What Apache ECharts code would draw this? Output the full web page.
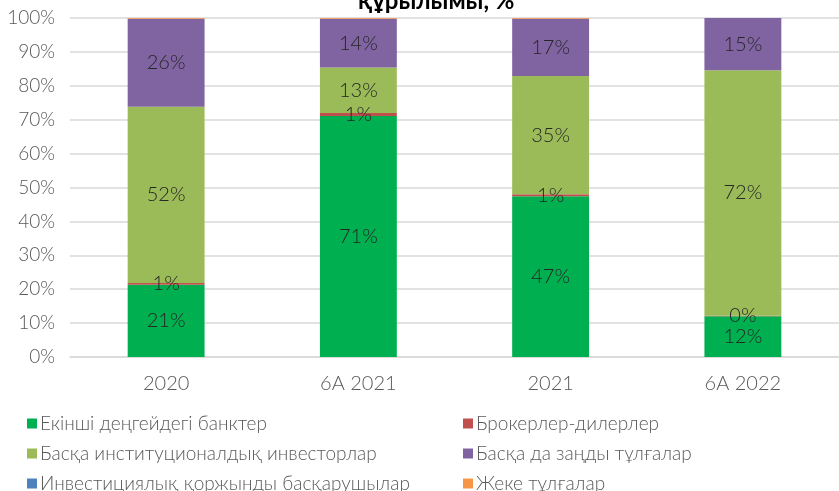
<!DOCTYPE html>
<html>
<head>
<meta charset="utf-8">
<script src="https://cdn.jsdelivr.net/npm/echarts@6/dist/echarts.min.js"></script>
<style>
  html, body { margin: 0; padding: 0; background: #fff; }
  #chart { width: 839px; height: 491px; }
</style>
</head>
<body>
<div id="chart"></div>
<script>
const categories = ["2020", "6А 2021", "2021", "6А 2022"];

// shares, % of total
const banks = [21.3, 71.1, 47.4, 12.0];
const brokers = [0.5, 0.9, 0.6, 0.2];
const otherInstitutional = [52.0, 13.4, 34.9, 72.4];
const otherLegal = [26.0, 14.4, 16.9, 15.4];
const fundManagers = [0, 0, 0, 0];
const individuals = [0.2, 0.2, 0.2, 0];

const yTicks = { min: 0, max: 100, interval: 10 };

const seriesDefs = [
  { name: "Екінші деңгейдегі банктер", data: banks, color: "#00B050", label: true },
  { name: "Брокерлер-дилерлер", data: brokers, color: "#C0504D", label: true },
  { name: "Басқа институционалдық инвесторлар", data: otherInstitutional, color: "#9BBB59", label: true },
  { name: "Басқа да заңды тұлғалар", data: otherLegal, color: "#8064A2", label: true },
  { name: "Инвестициялық қоржынды басқарушылар", data: fundManagers, color: "#4F81BD", label: false },
  { name: "Жеке тұлғалар", data: individuals, color: "#F79646", label: false }
];

const chart = echarts.init(document.getElementById("chart"));

// two legend columns, three rows, one legend per item
const legendCols = [22, 458];
const legendRows = [409, 439, 469];
const legends = seriesDefs.map((s, i) => ({
  data: [s.name],
  left: legendCols[i % 2],
  top: legendRows[Math.floor(i / 2)],
  itemWidth: 10,
  itemHeight: 10,
  itemGap: 4,
  icon: "rect",
  textStyle: { color: "#595959", fontSize: 19, fontFamily: "Lato", fontWeight: 300, padding: [0, 0, 0, -2] }
}));

chart.setOption({
  backgroundColor: "#fff",
  animation: false,
  title: {
    text: "құрылымы, %",
    left: 353,
    top: -16,
    textStyle: { fontSize: 24, fontWeight: "bold", color: "#000", fontFamily: "Lato" }
  },
  legend: legends,
  grid: { left: 70, right: -3, top: 18, bottom: 134 },
  xAxis: {
    type: "category",
    data: categories,
    axisLine: { lineStyle: { color: "#d9d9d9", width: 1.5 } },
    axisTick: { show: false },
    axisLabel: { color: "#595959", fontSize: 20, fontFamily: "Lato", fontWeight: 300, margin: 17 }
  },
  yAxis: {
    type: "value",
    min: yTicks.min,
    max: yTicks.max,
    interval: yTicks.interval,
    axisLine: { show: false },
    axisTick: { show: false },
    axisLabel: { color: "#595959", fontSize: 19, fontFamily: "Lato", fontWeight: 300, margin: 15, formatter: "{value}%" },
    splitLine: { lineStyle: { color: "#d9d9d9", width: 1.5 } }
  },
  series: seriesDefs.map(s => ({
    name: s.name,
    type: "bar",
    stack: "total",
    barWidth: "40%",
    data: s.data,
    itemStyle: { color: s.color },
    label: {
      show: s.label,
      position: "inside",
      color: "#262626",
      fontSize: 20,
      fontFamily: "Lato",
      fontWeight: 300,
      formatter: p => Math.round(p.value) + "%"
    }
  }))
});
</script>
</body>
</html>
